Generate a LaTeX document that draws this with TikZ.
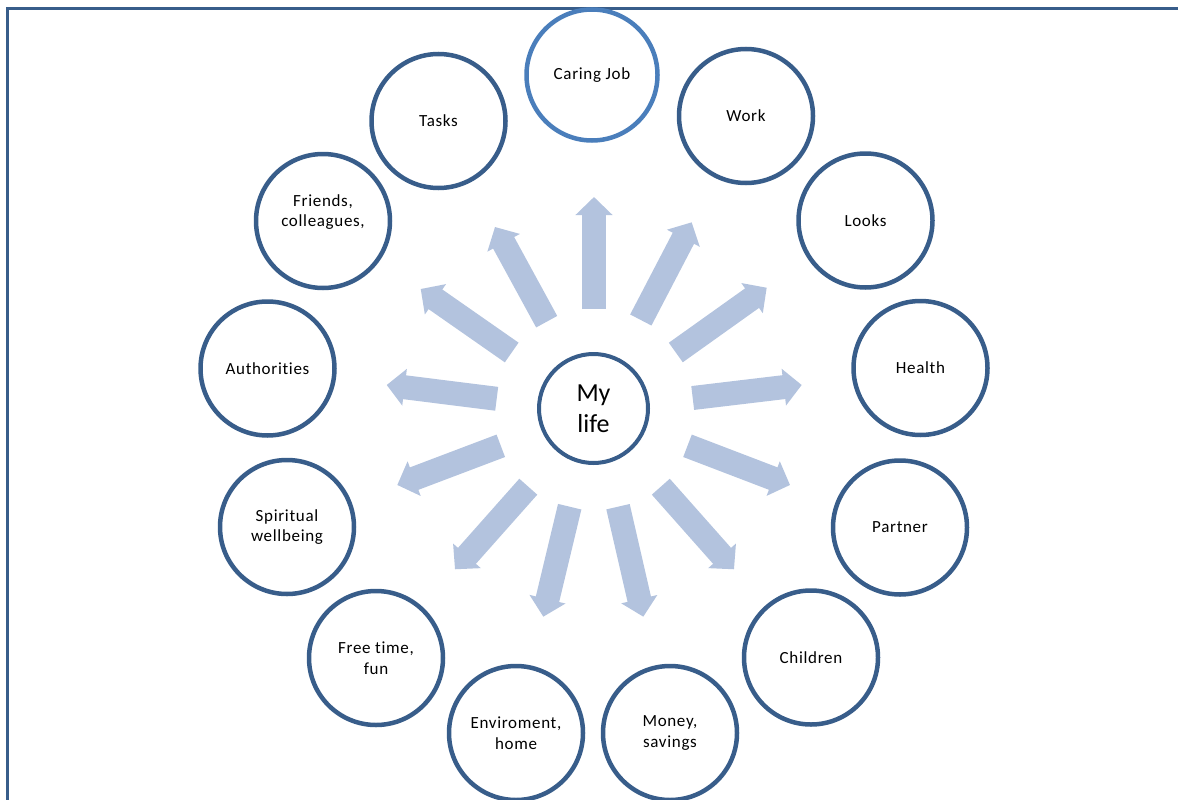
\documentclass[tikz,border=0pt]{standalone}
\usepackage{fontspec}
\setmainfont{Carlito}[Ligatures=NoCommon]
\newfontfamily\labelfont{Carlito}[Ligatures=NoCommon,LetterSpace=4]
\usetikzlibrary{arrows.meta}
\definecolor{ringblue}{HTML}{385D8A}
\definecolor{topblue}{HTML}{4A7EBB}
\definecolor{rayblue}{HTML}{B3C3DE}

\begin{document}
\begin{tikzpicture}[x=1pt,y=-1pt,
  topic/.style={circle, draw=ringblue, line width=4.5pt, minimum size=134pt,
    inner sep=0pt, align=center, font=\labelfont\fontsize{17}{20.5}\selectfont},
  hub/.style={topic, minimum size=109pt, line width=4pt,
    font=\rmfamily\fontsize{26}{31}\selectfont},
  ray/.style={draw=rayblue, line width=24pt,
    -{Triangle[length=18pt,width=36pt]}},
]
\useasboundingbox (0,0) rectangle (1178,800);
\clip (0,0) rectangle (1178,800);

% page frame
\draw[ringblue, line width=3pt] (7.5,820) -- (7.5,8.5) -- (1200,8.5);

% centre
\node[hub] (life) at (593.5,408.5) {My\\life};

% ring of topics
\node[topic, draw=topblue, minimum size=131pt] (caring) at (592,75) {Caring Job};
\node[topic] (work)     at (746,116)   {Work};
\node[topic] (looks)    at (865.5,220.5) {Looks};
\node[topic] (health)   at (920.5,368) {Health};
\node[topic] (partner)  at (900,527.5) {Partner};
\node[topic] (children) at (811,657.5) {Children};
\node[topic] (money)    at (670,733)   {Money,\\savings};
\node[topic] (environ)  at (516,733)   {Enviroment,\\home};
\node[topic] (freetime) at (376,658)   {Free time,\\fun};
\node[topic] (spirit)   at (287,527)   {Spiritual\\wellbeing};
\node[topic] (authority) at (267.5,368.5) {Authorities};
\node[topic] (friends)  at (323,221)   {Friends,\\colleagues,\\[0pt]};
\node[topic] (tasks)    at (438.5,121) {Tasks};

% rays from the centre
\coordinate (t1) at (594,309);     \coordinate (h1) at (594,197);
\coordinate (t2) at (640.8,320);   \coordinate (h2) at (691.7,222.3);
\coordinate (t3) at (675.8,352.5); \coordinate (h3) at (766.7,287.7);
\coordinate (t4) at (692.7,398);   \coordinate (h4) at (801.7,385);
\coordinate (t5) at (687.5,445.8); \coordinate (h5) at (790,485);
\coordinate (t6) at (660.8,486.7); \coordinate (h6) at (734,569.3);
\coordinate (t7) at (618,506.7);   \coordinate (h7) at (643.3,616.7);
\coordinate (t8) at (569.7,506.7); \coordinate (h8) at (543.3,616.7);
\coordinate (t9) at (528.3,486.7); \coordinate (h9) at (455,569.3);
\coordinate (t10) at (500.8,445.8); \coordinate (h10) at (397.3,485);
\coordinate (t11) at (496.7,398.8); \coordinate (h11) at (386.7,385);
\coordinate (t12) at (511.7,352.5); \coordinate (h12) at (420.7,289);
\coordinate (t13) at (546.7,321.7); \coordinate (h13) at (495,227);
\foreach \i in {1,...,13} { \draw[ray] (t\i) -- (h\i); }
\end{tikzpicture}
\end{document}
